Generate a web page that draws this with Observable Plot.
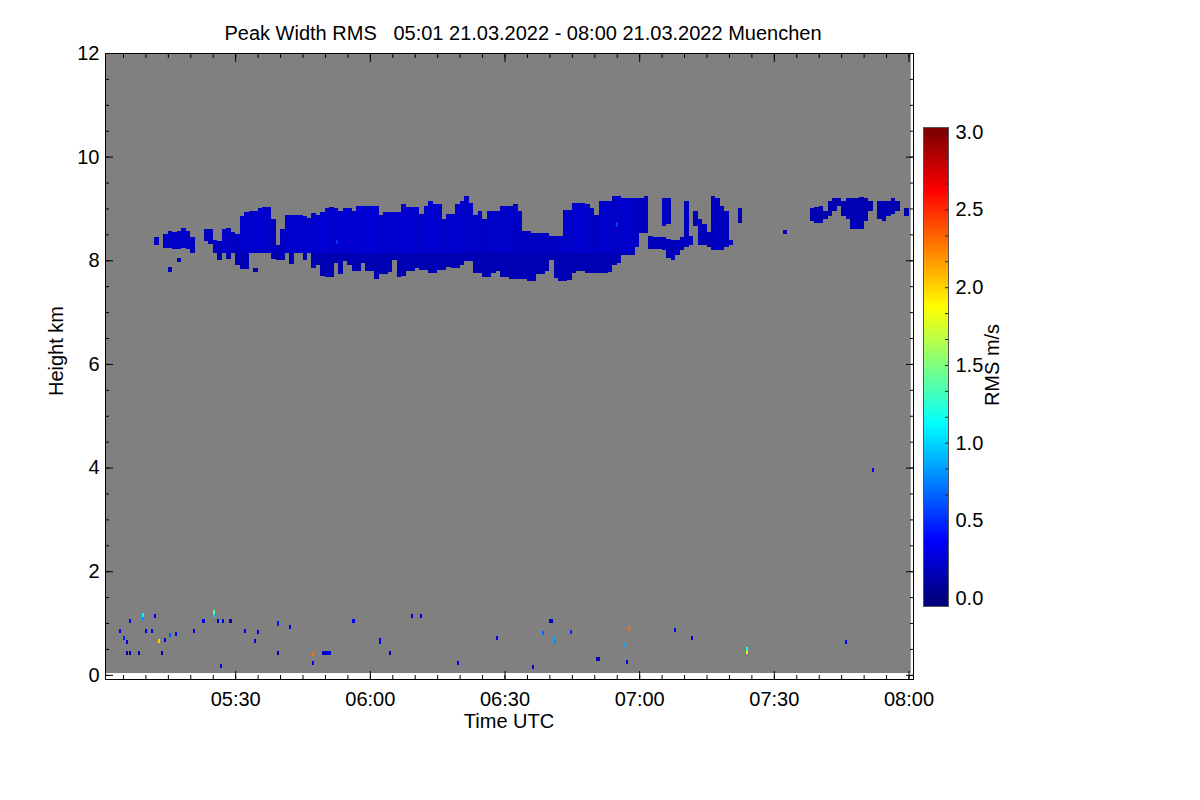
<!DOCTYPE html>
<html>
<head>
<meta charset="utf-8">
<script src="https://cdn.jsdelivr.net/npm/d3@7"></script>
<script src="https://cdn.jsdelivr.net/npm/@observablehq/plot@0.6"></script>
<style>
  body { margin: 0; background: #fff; font-family: "Liberation Sans", Arial, Helvetica, sans-serif; }
  #wrap { position: relative; width: 1200px; height: 800px; overflow: hidden; }
  #wrap svg { position: absolute; }
  .lbl { position: absolute; font-size: 20px; line-height: 1; color: #000; white-space: pre; transform: translate(-50%, -50%); }
  .rot { transform: translate(-50%, -50%) rotate(-90deg); }
</style>
</head>
<body>
<div id="wrap">
  <div class="lbl" style="left:523px; top:33px;">Peak Width RMS   05:01 21.03.2022 - 08:00 21.03.2022 Muenchen</div>
  <div class="lbl" style="left:509px; top:721px;">Time UTC</div>
  <div class="lbl rot" style="left:56px; top:351px;">Height km</div>
  <div class="lbl rot" style="left:992px; top:365px;">RMS m/s</div>
</div>
<script>
// ---------------- DATA ----------------
// time is given in minutes after 05:00 UTC on 21.03.2022, heights in km, values RMS in m/s
const scanTime = [1, 180.5];          // observed period (05:01 - 08:00)
const scanRangeKm = [0.035, 11.98];   // observed height range
const timeTickLabels = ["05:30", "06:00", "06:30", "07:00", "07:30", "08:00"];
const heightTicks = [0, 2, 4, 6, 8, 10, 12];
const rmsTicks = [0.0, 0.5, 1.0, 1.5, 2.0, 2.5, 3.0];
// jet palette stops
const jetStops = [0, 0.375, 1.125, 1.875, 2.625, 3.0];
const jetColors = ["#000080", "#0000ff", "#00ffff", "#ffff00", "#ff0000", "#800000"];

// cloud column segments: [minute, base km, top km, rms]
const firstPatch = [
  [12, 8.30, 8.45, 0.18], [14, 8.23, 8.50, 0.20], [15, 8.23, 8.56, 0.21], [16, 8.21, 8.54, 0.22],
  [17, 8.22, 8.56, 0.21], [18, 8.23, 8.63, 0.23], [19, 8.22, 8.56, 0.21], [20, 8.15, 8.44, 0.18],
  [15, 7.77, 7.88, 0.15], [17, 7.96, 8.05, 0.15]
];
const mainBand = [
  [23,8.37,8.60,0.19],[24,8.31,8.60,0.20],[25,8.15,8.40,0.18],[26,8.15,8.37,0.19],[27,8.15,8.60,0.20],[28,8.15,8.63,0.21],[29,8.15,8.54,0.19],[30,8.15,8.50,0.20],
  [31,8.15,8.85,0.21],[32,8.15,8.94,0.23],[33,8.15,8.96,0.22],[34,8.15,8.96,0.24],[35,8.15,9.00,0.23],[36,8.15,9.03,0.22],[37,8.15,9.02,0.21],[38,8.15,8.79,0.20],[39,8.15,8.30,0.18],[40,8.15,8.60,0.20],
  [41,8.15,8.88,0.23],[42,8.15,8.88,0.25],[43,8.15,8.88,0.22],[44,8.15,8.87,0.24],[45,8.15,8.85,0.23],[46,8.15,8.81,0.21],[47,8.15,8.92,0.24],[48,8.15,8.88,0.23],[49,8.15,8.94,0.25],[50,8.15,9.00,0.24],
  [51,8.15,9.03,0.23],[52,8.15,9.00,0.22],[53,8.15,8.96,0.24],[54,8.15,9.00,0.25],[55,8.15,9.00,0.24],[56,8.15,8.95,0.23],[57,8.15,9.05,0.25],[58,8.15,9.05,0.24],[59,8.15,9.05,0.26],[60,8.15,9.05,0.25],
  [61,8.15,9.05,0.24],[62,8.15,8.88,0.22],[63,8.15,8.94,0.23],[64,8.15,8.94,0.24],[65,8.15,8.94,0.23],[66,8.15,8.94,0.25],[67,8.15,9.08,0.24],[68,8.15,9.02,0.23],[69,8.15,9.02,0.24],[70,8.15,9.02,0.22],
  [71,8.15,8.90,0.21],[72,8.15,9.05,0.23],[73,8.15,9.14,0.24],[74,8.15,9.08,0.23],[75,8.15,9.08,0.22],[76,8.15,8.79,0.21],[77,8.15,8.90,0.22],[78,8.15,8.90,0.23],[79,8.15,9.08,0.22],[80,8.15,9.14,0.23],
  [81,8.15,9.25,0.21],[82,8.15,9.10,0.22],[83,8.15,8.88,0.21],[84,8.15,8.95,0.22],[85,8.15,8.79,0.20],[86,8.15,8.95,0.22],[87,8.15,8.95,0.21],[88,8.15,8.95,0.22],[89,8.15,9.05,0.21],[90,8.15,9.05,0.22],
  [91,8.15,9.05,0.21],[92,8.15,9.08,0.20],[93,8.15,8.95,0.20],[94,8.15,8.56,0.19],[95,8.15,8.56,0.20],[96,8.15,8.53,0.19],[97,8.15,8.53,0.19],[98,8.15,8.53,0.20],[99,8.15,8.53,0.19],[100,8.15,8.47,0.19],
  [101,8.15,8.47,0.20],[102,8.15,8.47,0.20],[103,8.15,8.98,0.22],[104,8.15,8.98,0.23],[105,8.15,9.10,0.22],[106,8.15,9.10,0.24],[107,8.15,9.10,0.23],[108,8.15,9.08,0.22],[109,8.15,9.00,0.21],[110,8.15,8.88,0.20],
  [111,8.15,9.14,0.22],[112,8.15,9.14,0.23],[113,8.15,9.14,0.22],[114,8.15,9.24,0.21],[115,8.15,9.24,0.22],[116,8.15,9.21,0.23],[117,8.15,9.21,0.22],[118,8.15,9.21,0.21],[119,8.25,9.21,0.20],[120,8.53,9.20,0.19],[121,8.53,9.24,0.19]
];
const virga = [
  [26,8.00,8.15,0.15],[28,8.03,8.15,0.15],[30,7.90,8.15,0.16],[31,7.84,8.15,0.15],[32,7.84,8.15,0.16],[34,7.77,7.86,0.14],
  [38,8.03,8.15,0.15],[39,8.00,8.15,0.14],[40,8.00,8.15,0.15],[42,7.92,8.15,0.15],[45,8.00,8.15,0.14],[47,7.86,8.15,0.16],
  [48,7.90,8.15,0.15],[49,7.70,8.15,0.15],[50,7.67,8.15,0.16],[51,7.67,8.15,0.15],[52,7.95,8.15,0.14],[53,7.74,8.15,0.15],
  [54,7.98,8.15,0.15],[55,7.90,8.15,0.15],[56,7.80,8.15,0.16],[57,7.79,8.15,0.15],[58,7.95,8.15,0.16],[59,7.79,8.15,0.15],
  [60,7.79,8.15,0.16],[61,7.63,8.15,0.15],[62,7.73,8.15,0.16],[63,7.73,8.15,0.15],[64,7.78,8.15,0.16],[65,8.00,8.15,0.15],
  [66,7.67,8.15,0.16],[67,7.70,8.15,0.15],[68,7.79,8.15,0.16],[69,7.79,8.15,0.15],[70,7.85,8.15,0.16],[71,7.82,8.15,0.15],
  [72,7.82,8.15,0.16],[73,7.76,8.15,0.15],[74,7.76,8.15,0.16],[75,7.82,8.15,0.15],[76,7.82,8.15,0.16],[77,7.88,8.15,0.15],
  [78,7.85,8.15,0.16],[79,7.85,8.15,0.15],[80,7.90,8.15,0.16],[81,7.98,8.15,0.15],[82,7.98,8.15,0.16],[83,7.76,8.15,0.15],
  [84,7.76,8.15,0.16],[85,7.67,8.15,0.15],[86,7.67,8.15,0.16],[87,7.76,8.15,0.15],[88,7.80,8.15,0.16],[89,7.67,8.15,0.15],
  [90,7.67,8.15,0.16],[91,7.63,8.15,0.15],[92,7.63,8.15,0.16],[93,7.63,8.15,0.15],[94,7.63,8.15,0.16],[95,7.60,8.15,0.15],
  [96,7.60,8.15,0.16],[97,7.73,8.15,0.15],[98,7.73,8.15,0.16],[99,7.80,8.15,0.15],[100,8.00,8.15,0.15],[101,7.65,8.15,0.16],
  [102,7.60,8.15,0.15],[103,7.60,8.15,0.16],[104,7.62,8.15,0.15],[105,7.75,8.15,0.16],[106,7.80,8.15,0.15],[107,7.80,8.15,0.16],
  [108,7.76,8.15,0.15],[109,7.76,8.15,0.16],[110,7.76,8.15,0.15],[111,7.76,8.15,0.16],[112,7.76,8.15,0.15],[113,7.78,8.15,0.16],
  [114,7.90,8.15,0.15],[115,7.95,8.15,0.16],[116,8.10,8.15,0.15],[117,8.10,8.15,0.16],[118,8.10,8.15,0.15]
];
const brokenCells = [
  [122,8.21,8.47,0.18],[123,8.21,8.45,0.19],[124,8.21,8.45,0.18],[125,8.20,8.45,0.18],[125,8.66,9.21,0.20],
  [126,8.05,8.42,0.17],[126,8.70,9.20,0.19],[127,8.00,8.40,0.17],[128,8.10,8.40,0.18],[129,8.20,8.45,0.18],
  [130,8.25,9.14,0.19],[131,8.30,8.47,0.17],[132,8.66,8.95,0.16],[133,8.30,8.80,0.18],[134,8.30,8.70,0.17],
  [135,8.25,8.55,0.17],[136,8.20,9.24,0.19],[137,8.20,9.20,0.20],[138,8.20,9.05,0.19],[139,8.25,8.95,0.18],
  [140,8.30,8.40,0.16],[142,8.72,9.00,0.16]
];
const eastCells = [
  [152,8.50,8.58,0.15],
  [158,8.75,9.00,0.14],[159,8.72,9.02,0.15],[160,8.72,9.05,0.14],[161,8.80,8.95,0.14],
  [162,8.85,9.15,0.15],[163,8.95,9.20,0.14],[164,9.05,9.20,0.14],
  [165,8.85,9.15,0.15],[166,8.80,9.20,0.16],[167,8.60,9.20,0.15],[168,8.60,9.20,0.16],[169,8.60,9.22,0.15],[170,8.75,9.20,0.15],[171,8.95,9.15,0.14],
  [173,8.80,9.15,0.15],[174,8.75,9.15,0.15],[175,8.85,9.15,0.16],[176,8.90,9.20,0.15],[177,8.95,9.15,0.14],
  [179,8.85,9.00,0.14]
];
// isolated gates: [minute, km, rms]
const echoes = [
  [4.03,0.85,0.3],[5.0,0.71,0.5],[5.6,0.64,0.3],[5.6,0.42,0.15],[6.3,0.42,0.15],[8.3,0.42,0.15],[6.35,1.04,0.35],
  [9.2,1.08,0.8],[9.2,1.16,1.1],[9.9,0.85,0.25],[11.2,0.85,0.25],[11.9,1.13,0.35],[12.8,0.66,2.0],[13.5,0.42,0.15],
  [14.1,0.67,0.3],[15.3,0.77,0.6],[16.6,0.79,0.35],[20.6,0.85,0.3],[22.7,1.04,0.3],[25.0,1.16,1.0],[25.0,1.22,1.4],
  [26.0,1.04,0.3],[27.0,1.04,0.3],[28.6,1.04,0.2],[28.9,1.04,0.2],[26.6,0.17,0.3],[32.0,0.85,0.3],[34.1,0.66,0.2],
  [34.9,0.83,0.3],[39.3,0.99,0.45],[39.3,0.42,0.2],[42.0,0.92,0.3],[47.1,0.40,2.3],[47.1,0.23,0.35],[49.3,0.42,0.25],
  [49.8,0.42,0.25],[50.3,0.42,0.25],[50.8,0.42,0.25],[56.1,1.04,0.35],[62.0,0.63,0.35],[62.0,0.68,0.35],[64.3,0.42,0.2],
  [69.2,1.14,0.3],[71.2,1.14,0.3],[79.4,0.23,0.3],[88.1,0.71,0.3],[96.1,0.15,0.3],[98.3,0.80,0.7],[99.9,1.04,0.2],
  [100.4,1.04,0.2],[101.0,0.64,0.8],[101.0,0.71,0.9],[104.6,0.82,0.5],[110.3,0.31,0.15],[110.8,0.31,0.15],[117.0,0.25,0.3],
  [116.6,0.58,0.9],[117.5,0.89,2.3],[127.7,0.87,0.35],[131.5,0.71,0.3],[143.8,0.44,1.95],[143.8,0.50,1.2],[165.8,0.63,0.35],
  [171.8,3.95,0.3],[52.5,8.35,0.5],[114.8,8.69,0.55]
];

// ---------------- CHART ----------------
const t0 = Date.UTC(2022, 2, 21, 5, 0);
const t = m => new Date(t0 + m * 60000);
const parseHM = s => { const [h, mm] = s.split(":").map(Number); return new Date(Date.UTC(2022, 2, 21, h, mm)); };
const majorTimes = timeTickLabels.map(parseHM);
const minorTimes = d3.utcMinute.every(5).range(t(1), t(181));
const minorHeights = d3.range(0, 12.001, 0.5);
const colorScale = { type: "linear", domain: jetStops, range: jetColors, interpolate: "rgb", clamp: true };
const font = "Liberation Sans, Arial, Helvetica, sans-serif";

const column = (data) => Plot.rect(data, {
  x1: d => t(d[0]), x2: d => t(d[0] + 1), y1: d => d[1], y2: d => d[2], fill: d => d[3],
  shapeRendering: "crispEdges"
});

const main = Plot.plot({
  width: 1200, height: 800,
  marginLeft: 105, marginRight: 287, marginTop: 53, marginBottom: 121,
  style: { background: "transparent", fontFamily: font, color: "black", overflow: "visible" },
  x: { type: "utc", domain: [t(1), t(181)] },
  y: { domain: [-0.08, 12] },
  color: colorScale,
  marks: [
    Plot.rect([0], { x1: () => t(scanTime[0]), x2: () => t(scanTime[1]), y1: () => scanRangeKm[0], y2: () => scanRangeKm[1], fill: "#808080" }),
    column(firstPatch),
    column(mainBand),
    column(virga),
    column(brokenCells),
    column(eastCells),
    Plot.rect(echoes, {
      x1: d => t(d[0]), x2: d => t(d[0] + 0.5), y1: d => d[1] - 0.04, y2: d => d[1] + 0.04, fill: d => d[2],
      shapeRendering: "crispEdges"
    }),
    // tick labels
    Plot.axisX({ anchor: "bottom", ticks: majorTimes, tickFormat: d3.utcFormat("%H:%M"), tickSize: 0, tickPadding: 12, fontSize: 20, label: null }),
    Plot.axisY({ anchor: "left", ticks: heightTicks, tickFormat: d => String(d), tickSize: 0, tickPadding: 6, fontSize: 20, label: null }),
    // inward tick marks
    Plot.axisX({ anchor: "bottom", ticks: minorTimes, tickSize: -4, text: null, label: null }),
    Plot.axisX({ anchor: "bottom", ticks: majorTimes, tickSize: -8, text: null, label: null }),
    Plot.axisX({ anchor: "top", ticks: minorTimes, tickSize: -4, text: null, label: null }),
    Plot.axisX({ anchor: "top", ticks: majorTimes, tickSize: -8, text: null, label: null }),
    Plot.axisY({ anchor: "left", ticks: minorHeights, tickSize: -4, text: null, label: null }),
    Plot.axisY({ anchor: "left", ticks: heightTicks, tickSize: -8, text: null, label: null }),
    Plot.axisY({ anchor: "right", ticks: minorHeights, tickSize: -4, text: null, label: null }),
    Plot.axisY({ anchor: "right", ticks: heightTicks, tickSize: -8, text: null, label: null }),
    Plot.frame({ stroke: "black", strokeWidth: 1 })
  ]
});
main.style.left = "0px";
main.style.top = "0px";

const cbar = Plot.plot({
  width: 100, height: 520,
  marginLeft: 23, marginRight: 52, marginTop: 17, marginBottom: 24,
  style: { background: "transparent", fontFamily: font, color: "black", overflow: "visible" },
  x: { domain: [0, 1], axis: null },
  y: { domain: [-0.05, 3.03] },
  color: colorScale,
  marks: [
    Plot.raster({ x1: 0, x2: 1, y1: -0.05, y2: 3.03, fill: (x, y) => y }),
    Plot.axisY({ anchor: "right", ticks: rmsTicks, tickFormat: d => d.toFixed(1), tickSize: 0, tickPadding: 7, fontSize: 20, label: null }),
    Plot.axisY({ anchor: "right", ticks: d3.range(0, 3.001, 0.5 / 3), tickSize: -4, text: null, label: null, stroke: "#222" }),
    Plot.frame({ stroke: "#555", strokeWidth: 1 })
  ]
});
cbar.style.left = "900px";
cbar.style.top = "110px";

const wrap = document.getElementById("wrap");
wrap.appendChild(main);
wrap.appendChild(cbar);
</script>
</body>
</html>
